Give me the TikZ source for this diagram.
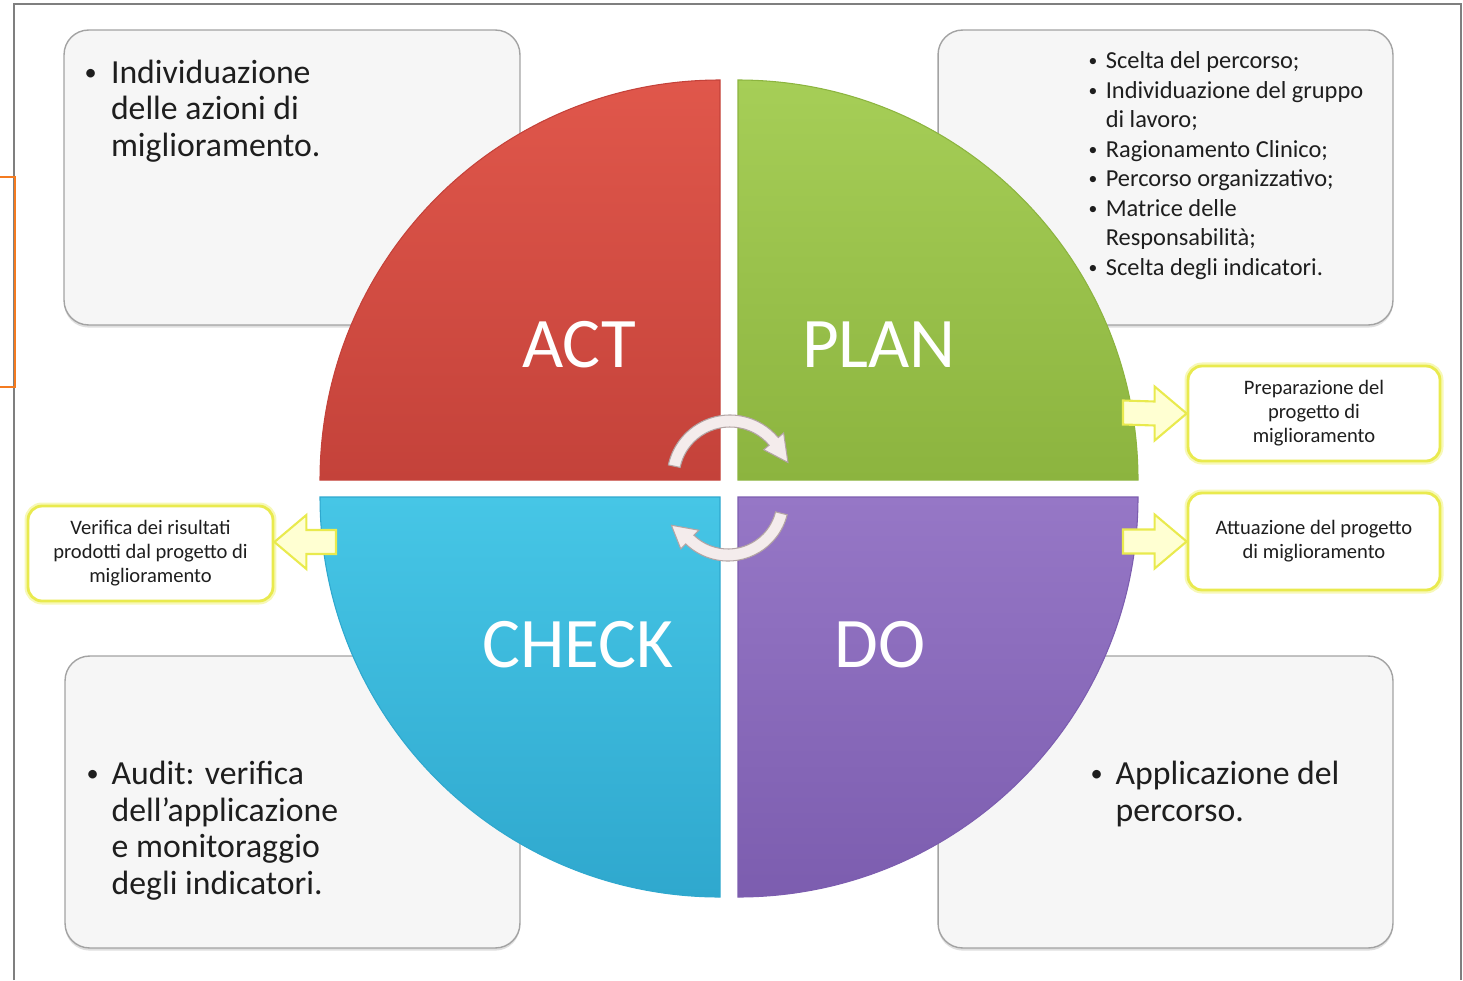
\documentclass[tikz,border=0pt]{standalone}
\usepackage{fontspec}
\setmainfont{Carlito}
\usepackage{xcolor}
\usepackage{tikz}
\usetikzlibrary{positioning,calc,shadows}

\definecolor{actL}{HTML}{E0574B}
\definecolor{actD}{HTML}{C4423A}
\definecolor{planL}{HTML}{A6CE57}
\definecolor{planD}{HTML}{8CB43F}
\definecolor{checkL}{HTML}{46C6E6}
\definecolor{checkD}{HTML}{2FA8CE}
\definecolor{doL}{HTML}{9677C6}
\definecolor{doD}{HTML}{7C5DAF}
\definecolor{boxfill}{HTML}{F6F6F6}
\definecolor{boxedge}{HTML}{A3A3A3}
\definecolor{yeledge}{HTML}{E9EA4E}
\definecolor{yelglow}{HTML}{F7F8B8}
\definecolor{arrowfill}{HTML}{FFFFD2}
\definecolor{cycfill}{HTML}{F4ECEC}
\definecolor{cycedge}{HTML}{B3A4A4}
\definecolor{framegray}{HTML}{7F7F7F}
\definecolor{orangeline}{HTML}{F47B20}
\definecolor{inktext}{HTML}{1E1E1E}

\tikzset{
	graybox/.style={draw=boxedge, fill=boxfill, rounded corners=14pt, line width=0.8pt,
		drop shadow={shadow xshift=0pt, shadow yshift=-1.5pt, opacity=0.25}},
	yelbox/.style={draw=yeledge, fill=white, rounded corners=8pt, line width=1.6pt,
		preaction={draw=yelglow, line width=4pt},
		align=center, text=inktext, font=\fontsize{11.7}{13.6}\selectfont},
	yelarrow/.style={fill=arrowfill, draw=yeledge, line width=1.2pt, line join=miter},
	cycarrow/.style={fill=cycfill, draw=cycedge, line width=0.6pt},
	quad/.style={line width=0.6pt},
	bigword/.style={text=white, font=\fontsize{40.5}{48}\selectfont},
	bigtext/.style={align=left, text=inktext, inner sep=0pt, font=\fontsize{19.2}{21}\selectfont},
	smalltext/.style={align=left, text=inktext, inner sep=0pt, font=\fontsize{13.9}{16.8}\selectfont}
}

\newcommand{\itm}[1]{\makebox[#1][l]{\raisebox{0.07em}{\scalebox{0.72}{\textbullet}}}}

\begin{document}
\begin{tikzpicture}[x=0.02cm,y=0.02cm]
	\def\R{400}
\useasboundingbox (0,0) rectangle (1463,-980);

% cornice
\draw[framegray, line width=1.2pt] (14,-980) -- (14,-4) -- (1461,-4) -- (1461,-980);

% riquadri grigi
\node[graybox, minimum width=9.12cm, minimum height=5.9cm] (actbox) at (292,-177.5) {};
\node[graybox, minimum width=9.1cm, minimum height=5.9cm] (planbox) at (1165.5,-177.5) {};
\node[graybox, minimum width=9.1cm, minimum height=5.84cm] (checkbox) at (292.5,-802) {};
\node[graybox, minimum width=9.1cm, minimum height=5.84cm] (dobox) at (1165.5,-802) {};

\node[bigtext, anchor=north west] (acttext) at ($(actbox.north west)+(21,-30)$)
	{\itm{0.78em}Individuazione\\ \hspace*{0.78em}delle azioni di\\ \hspace*{0.78em}miglioramento.};
\node[smalltext, anchor=north west] (plantext) at ($(planbox.north west)+(151,-22)$)
	{\itm{0.7em}Scelta del percorso;\\
	 \itm{0.7em}Individuazione del gruppo\\ \hspace*{0.7em}di lavoro;\\
	 \itm{0.7em}Ragionamento Clinico;\\
	 \itm{0.7em}Percorso organizzativo;\\
	 \itm{0.7em}Matrice delle\\ \hspace*{0.7em}Responsabilità;\\
	 \itm{0.7em}Scelta degli indicatori.};
\node[bigtext, anchor=north west] (checktext) at ($(checkbox.north west)+(22,-105)$)
	{\itm{0.74em}Audit: verifica\\ \hspace*{0.74em}dell’applicazione\\ \hspace*{0.74em}e monitoraggio\\ \hspace*{0.74em}degli indicatori.};
\node[bigtext, anchor=north west] (dotext) at ($(dobox.north west)+(153,-105)$)
	{\itm{0.74em}Applicazione del\\ \hspace*{0.74em}percorso.};

%Centri dei quadranti
\coordinate (cA) at (720,-480);
\coordinate (cP) at (738,-480);
\coordinate (cC) at (720,-497);
\coordinate (cD) at (738,-497);

%Quadranti
\path[quad, draw=actD, top color=actL, bottom color=actD] (cA) -- ++(180:\R) arc[start angle=180,end angle=90,radius=\R] -- cycle;
\path[quad, draw=planD, top color=planL, bottom color=planD] (cP) -- ++(90:\R) arc[start angle=90,end angle=0,radius=\R] -- cycle;
\path[quad, draw=checkD, top color=checkL, bottom color=checkD] (cC) -- ++(270:\R) arc[start angle=270,end angle=180,radius=\R] -- cycle;
\path[quad, draw=doD, top color=doL, bottom color=doD] (cD) -- ++(0:\R) arc[start angle=0,end angle=-90,radius=\R] -- cycle;

\node[bigword] (act) at (579,-345) {ACT};
\node[bigword] (plan) at (879,-345) {PLAN};
\node[bigword] (check) at (578,-645) {CHECK};
\node[bigword] (do) at (880,-645) {DO};

%Frecce circolari
\coordinate (cyc1) at (730,-478);
\coordinate (cyc2) at (728,-500);
\filldraw[cycarrow] ($(cyc1)+(168:63)$) arc[start angle=168,end angle=40,radius=63]
	-- ($(cyc1)+(40:70)$) -- ($(cyc1)+(15:60)$) -- ($(cyc1)+(40:44)$)
	-- ($(cyc1)+(40:51)$) arc[start angle=40,end angle=168,radius=51] -- cycle;
\filldraw[cycarrow] ($(cyc2)+(-14:61)$) arc[start angle=-14,end angle=-134,radius=61]
	-- ($(cyc2)+(-134:68)$) -- ($(cyc2)+(-156:62)$) -- ($(cyc2)+(-134:42)$)
	-- ($(cyc2)+(-134:49)$) arc[start angle=-134,end angle=-14,radius=49] -- cycle;

% riquadri gialli
\node[yelbox, minimum width=5.04cm, minimum height=1.9cm] (prep) at (1314,-413.5)
	{Preparazione del\\ progetto di\\ miglioramento};
\node[yelbox, minimum width=5.04cm, minimum height=1.94cm] (attu) at (1314,-541.5)
	{Attuazione del progetto\\ di miglioramento};
\node[yelbox, minimum width=4.9cm, minimum height=1.9cm] (verif) at (150.5,-553.5)
	{Verifica dei risultati\\ prodotti dal progetto di\\ miglioramento};

%Frecce gialle
\coordinate (planedge) at (1123,-412.5);
\coordinate (doedge) at (1123,-541.5);
\coordinate (checkedge) at (336,-542);
\filldraw[yelarrow] ($(planedge)+(0,12)$) -- ($(prep.west)+(-32,12)$) -- ($(prep.west)+(-32,27)$) -- (prep.west)
	-- ($(prep.west)+(-32,-27)$) -- ($(prep.west)+(-32,-12)$) -- ($(planedge)+(0,-12)$) -- cycle;
\filldraw[yelarrow] ($(doedge)+(0,12)$) -- ($(attu.west)+(-32,12)$) -- ($(attu.west)+(-32,27)$) -- (attu.west)
	-- ($(attu.west)+(-32,-27)$) -- ($(attu.west)+(-32,-12)$) -- ($(doedge)+(0,-12)$) -- cycle;
\filldraw[yelarrow] ($(checkedge)+(0,12)$) -- ($(verif.east|-checkedge)+(32,12)$) -- ($(verif.east|-checkedge)+(32,27)$) -- (verif.east|-checkedge)
	-- ($(verif.east|-checkedge)+(32,-27)$) -- ($(verif.east|-checkedge)+(32,-12)$) -- ($(checkedge)+(0,-12)$) -- cycle;

% segno arancione
\draw[orangeline, line width=1.3pt] (0,-177) -- (15,-177) -- (15,-387) -- (0,-387);

\end{tikzpicture}
\end{document}
